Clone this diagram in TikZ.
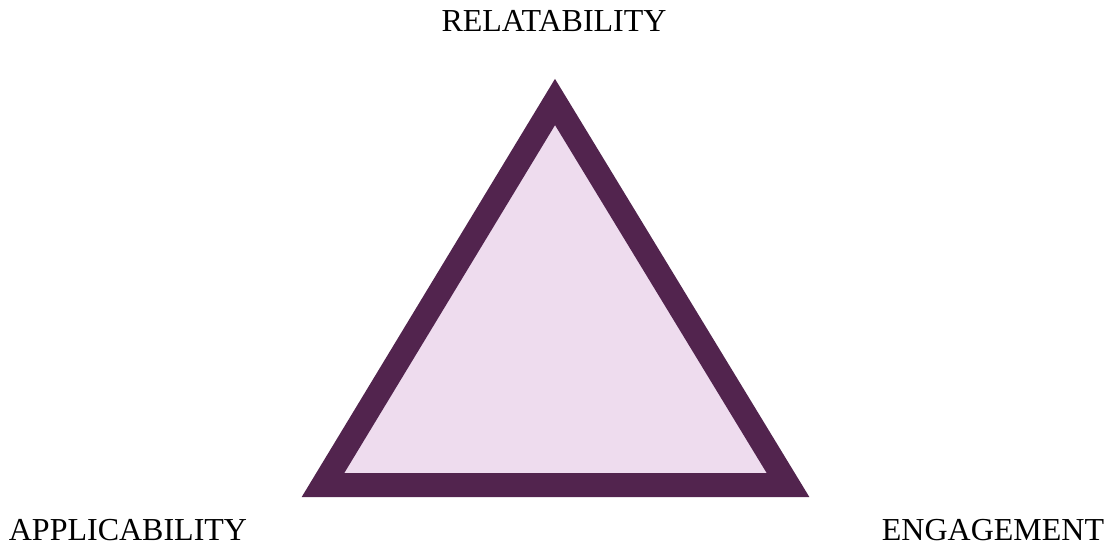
\documentclass[tikz,border=0pt]{standalone}
\usepackage{fontspec}
\setmainfont{Liberation Serif}
\definecolor{triedge}{HTML}{52244E}
\definecolor{trifill}{HTML}{EEDCEE}
\begin{document}
\begin{tikzpicture}[x=0.75pt,y=-0.75pt,
  lbl/.style={anchor=base,inner sep=0pt,font=\fontsize{24}{28}\selectfont}]
\useasboundingbox (0,0) rectangle (1106,552);
\coordinate (a) at (323,485);
\coordinate (b) at (788,485);
\coordinate (c) at (555,102);
\draw[triedge,fill=trifill,line width=18pt,line join=miter] (a) -- (b) -- (c) -- cycle;
\node[lbl] (top) at (554,32) {RELATABILITY};
\node[lbl] (left) at (128,540) {APPLICABILITY};
\node[lbl] (right) at (993,540) {ENGAGEMENT};
\end{tikzpicture}
\end{document}
